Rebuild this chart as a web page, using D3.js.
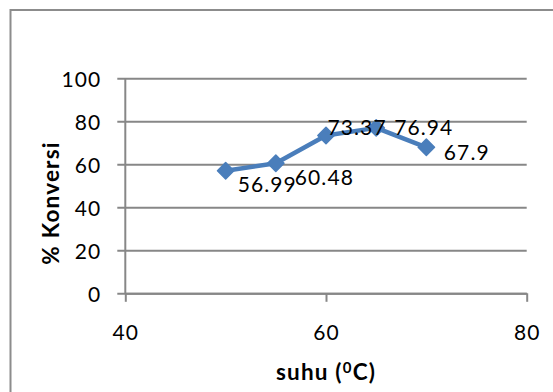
<!DOCTYPE html>
<html>
<head>
<meta charset="utf-8">
<script src="https://cdn.jsdelivr.net/npm/d3@7"></script>
<style>
  html, body { margin: 0; padding: 0; background: #ffffff; }
  svg { display: block; }
  text { font-family: Lato, "Open Sans", sans-serif; fill: #000; }
</style>
</head>
<body>
<svg id="chart" width="553" height="392"></svg>
<script>
// Temperature (°C) vs. conversion (%)
const suhu = [50, 55, 60, 65, 70];
const konversi = [56.99, 60.48, 73.37, 76.94, 67.9];
const xTicks = [40, 60, 80];
const yTicks = [0, 20, 40, 60, 80, 100];
// label placement relative to each marker: [dx, dy of baseline]
const labelOffsets = [[12, 21], [19, 22], [1.5, -0.5], [18, 7], [17.5, 13]];

const svg = d3.select("#chart");
const plotLeft = 125.3, plotRight = 526.7, plotTop = 78.3, plotBottom = 293.3;

const x = d3.scaleLinear().domain([40, 80]).range([plotLeft, plotRight]);
const y = d3.scaleLinear().domain([0, 100]).range([plotBottom, plotTop]);

const gridColor = "#878787";
const tickFont = "21px";
const tickSpacing = "1.1px";

// chart frame
svg.append("rect")
  .attr("x", 10.5).attr("y", 10)
  .attr("width", 600).attr("height", 450)
  .attr("fill", "none").attr("stroke", "#8c8c8c").attr("stroke-width", 2);

// horizontal gridlines with outward y ticks
const yAxis = svg.append("g")
  .attr("transform", `translate(${plotLeft},0)`)
  .call(d3.axisLeft(y).tickValues(yTicks).tickSizeInner(8).tickSizeOuter(0).tickPadding(16));
yAxis.select(".domain").remove();
yAxis.selectAll(".tick line")
  .attr("x1", -8).attr("x2", plotRight - plotLeft)
  .attr("stroke", gridColor).attr("stroke-width", 2);
yAxis.selectAll(".tick text")
  .attr("font-size", tickFont).attr("letter-spacing", tickSpacing)
  .attr("font-family", "Lato, sans-serif")
  .attr("dy", "0.38em");

// vertical axis line
svg.append("line")
  .attr("x1", plotLeft).attr("x2", plotLeft).attr("y1", plotTop).attr("y2", plotBottom)
  .attr("stroke", gridColor).attr("stroke-width", 2);

// x axis
const xAxis = svg.append("g")
  .attr("transform", `translate(0,${plotBottom})`)
  .call(d3.axisBottom(x).tickValues(xTicks).tickSizeInner(8.5).tickSizeOuter(0).tickPadding(23));
xAxis.select(".domain")
  .attr("stroke", gridColor).attr("stroke-width", 2);
xAxis.selectAll(".tick line").attr("stroke", gridColor).attr("stroke-width", 2);
xAxis.selectAll(".tick text")
  .attr("font-size", tickFont).attr("letter-spacing", tickSpacing)
  .attr("font-family", "Lato, sans-serif");

// series line
const pts = suhu.map((s, i) => [s, konversi[i]]);
svg.append("path")
  .datum(pts)
  .attr("fill", "none")
  .attr("stroke", "#4a7ebb")
  .attr("stroke-width", 4.5)
  .attr("stroke-linejoin", "round")
  .attr("d", d3.line().x(d => x(d[0])).y(d => y(d[1])));

// diamond markers
const diamond = d3.symbol().type(d3.symbolDiamond2).size(170);
svg.selectAll(".marker")
  .data(pts)
  .join("path")
  .attr("class", "marker")
  .attr("transform", d => `translate(${x(d[0])},${y(d[1])})`)
  .attr("d", diamond)
  .attr("fill", "#4a7ebb")
  .attr("stroke", "#4a7ebb")
  .attr("stroke-width", 1.5)
  .attr("stroke-linejoin", "round");

// value labels
svg.selectAll(".val")
  .data(pts)
  .join("text")
  .attr("class", "val")
  .attr("x", (d, i) => x(d[0]) + labelOffsets[i][0])
  .attr("y", (d, i) => y(d[1]) + labelOffsets[i][1])
  .attr("font-size", tickFont)
  .attr("letter-spacing", tickSpacing)
  .text(d => String(d[1]));

// axis titles
svg.append("text")
  .attr("transform", `translate(59,203) rotate(-90)`)
  .attr("text-anchor", "middle")
  .attr("font-size", "22.5px")
  .attr("font-weight", "bold")
  .attr("letter-spacing", "1.2px")
  .text("% Konversi");

const xt = svg.append("text")
  .attr("x", (plotLeft + plotRight) / 2)
  .attr("y", 380)
  .attr("text-anchor", "middle")
  .attr("font-size", "22.5px")
  .attr("font-weight", "bold")
  .attr("letter-spacing", "1.2px");
xt.append("tspan").text("suhu (");
xt.append("tspan").attr("font-size", "15px").attr("dy", "-7.5").text("0");
xt.append("tspan").attr("dy", "7.5").text("C)");
</script>
</body>
</html>
